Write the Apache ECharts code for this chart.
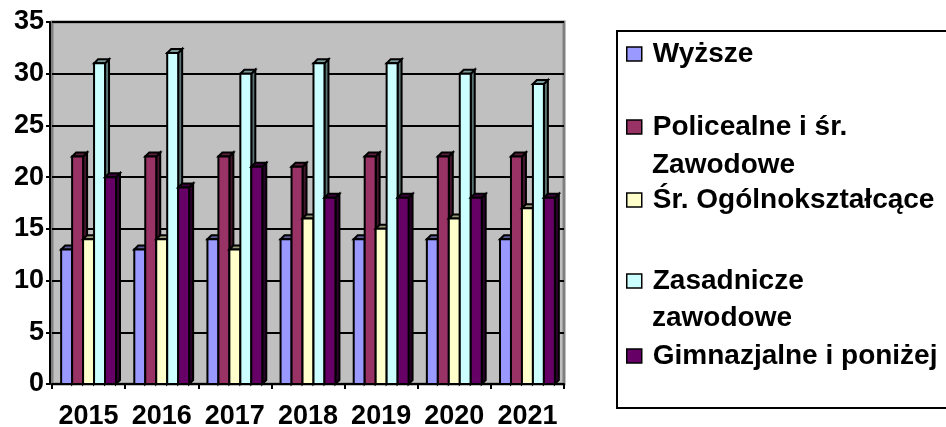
<!DOCTYPE html>
<html>
<head>
<meta charset="utf-8">
<script src="https://cdn.jsdelivr.net/npm/echarts@6/dist/echarts.min.js"></script>
<style>
  html, body { margin: 0; padding: 0; background: #fff; }
  #chart { width: 946px; height: 427px; }
</style>
</head>
<body>
<div id="chart"></div>
<script>
// dane z wykresu
const years = ["2015", "2016", "2017", "2018", "2019", "2020", "2021"];
const names = [
  "Wyższe",
  "Policealne i śr. Zawodowe",
  "Śr. Ogólnokształcące",
  "Zasadnicze zawodowe",
  "Gimnazjalne i poniżej",
];
const wyzsze = [13, 13, 14, 14, 14, 14, 14];
const policealne = [22, 22, 22, 21, 22, 22, 22];
const ogolnoksztalcace = [14, 14, 13, 16, 15, 16, 17];
const zasadnicze = [31, 32, 30, 31, 31, 30, 29];
const gimnazjalne = [20, 19, 21, 18, 18, 18, 18];
const yTicks = [0, 5, 10, 15, 20, 25, 30, 35];

const values = [wyzsze, policealne, ogolnoksztalcace, zasadnicze, gimnazjalne];
const colors = ["#9999FF", "#993366", "#FFFFCC", "#CCFFFF", "#660066"];
const font = "'Liberation Sans', Arial, sans-serif";

function shade(hex, f) {
  let n = parseInt(hex.slice(1), 16);
  let r = Math.round(((n >> 16) & 255) * f);
  let g = Math.round(((n >> 8) & 255) * f);
  let b = Math.round((n & 255) * f);
  return "rgb(" + r + "," + g + "," + b + ")";
}

// słupek 3D: przód, góra, bok
function makeRender(si) {
  return function (params, api) {
    let cat = api.value(0);
    let top = api.coord([cat, api.value(1)]);
    let base = api.coord([cat, 0]);
    let band = api.size([1, 0])[0];
    let groupW = band * 0.75;
    let bw = groupW / 5;
    let x0 = top[0] - groupW / 2 + si * bw;
    let x1 = x0 + bw;
    let y0 = top[1];
    let y1 = base[1];
    let d = 4;
    let line = { stroke: "#000", lineWidth: 2 };
    return {
      type: "group",
      children: [
        {
          type: "polygon",
          shape: { points: [[x1, y0], [x1 + d, y0 - d], [x1 + d, y1 - d], [x1, y1]] },
          style: Object.assign({ fill: shade(colors[si], 0.45) }, line),
        },
        {
          type: "polygon",
          shape: { points: [[x0, y0], [x0 + d, y0 - d], [x1 + d, y0 - d], [x1, y0]] },
          style: Object.assign({ fill: shade(colors[si], 0.6) }, line),
        },
        {
          type: "rect",
          shape: { x: x0, y: y0, width: bw, height: y1 - y0 },
          style: Object.assign({ fill: colors[si] }, line),
        },
      ],
    };
  };
}

let chartDom = document.getElementById("chart");
let myChart = echarts.init(chartDom);

let legendTops = [39, 112, 185, 266, 341];
let legendFirst = ["Wyższe", "Policealne i śr.", "Śr. Ogólnokształcące", "Zasadnicze", "Gimnazjalne i poniżej"];

let legends = names.map(function (nm, i) {
  return {
    data: [{
      name: nm,
      icon: "rect",
      itemStyle: { color: colors[i], borderColor: "#000", borderWidth: 1.5 },
    }],
    left: 626,
    top: legendTops[i],
    padding: 0,
    itemWidth: 15,
    itemHeight: 14,
    selectedMode: false,
    formatter: function () { return legendFirst[i]; },
    textStyle: {
      fontFamily: font,
      fontSize: 28,
      fontWeight: "bold",
      color: "#000",
      lineHeight: 30,
      padding: [0, 0, 0, 6],
    },
  };
});

let option = {
  animation: false,
  grid: {
    left: 52,
    right: 382,
    top: 22,
    bottom: 43,
    outerBoundsMode: "none",
    containLabel: false,
    show: true,
    backgroundColor: "#C0C0C0",
    borderColor: "#808080",
    borderWidth: 3,
  },
  legend: legends,
  graphic: [
    {
      type: "rect",
      shape: { x: 617, y: 31, width: 340, height: 377 },
      style: { fill: "none", stroke: "#000", lineWidth: 2 },
      z: 1,
    },
    {
      type: "text",
      x: 652,
      y: 165,
      style: { text: "Zawodowe", font: "bold 28px " + font, fill: "#000", verticalAlign: "middle" },
    },
    {
      type: "text",
      x: 652,
      y: 318,
      style: { text: "zawodowe", font: "bold 28px " + font, fill: "#000", verticalAlign: "middle" },
    },
  ],
  xAxis: {
    type: "category",
    data: years,
    offset: 2,
    axisLine: { lineStyle: { color: "#000", width: 2 } },
    axisTick: { show: true, length: 5, lineStyle: { color: "#000", width: 2 } },
    axisLabel: {
      interval: 0,
      margin: 17,
      fontFamily: font,
      fontSize: 27,
      fontWeight: "bold",
      color: "#000",
    },
    splitLine: { show: false },
  },
  yAxis: {
    type: "value",
    min: yTicks[0],
    max: yTicks[yTicks.length - 1],
    interval: 5,
    offset: 2,
    axisLine: { show: true, lineStyle: { color: "#000", width: 2 } },
    axisTick: { show: true, length: 4, lineStyle: { color: "#000", width: 2 } },
    axisLabel: {
      margin: 6,
      fontFamily: font,
      fontSize: 27,
      fontWeight: "bold",
      color: "#000",
    },
    splitLine: { show: true, lineStyle: { color: "#000", width: 2 } },
  },
  series: values.map(function (vals, i) {
    return {
      name: names[i],
      type: "custom",
      renderItem: makeRender(i),
      itemStyle: { color: colors[i] },
      encode: { x: 0, y: 1 },
      data: vals.map(function (v, k) { return [k, v]; }),
      z: 2 + i,
    };
  }),
};

option && myChart.setOption(option);
</script>
</body>
</html>
